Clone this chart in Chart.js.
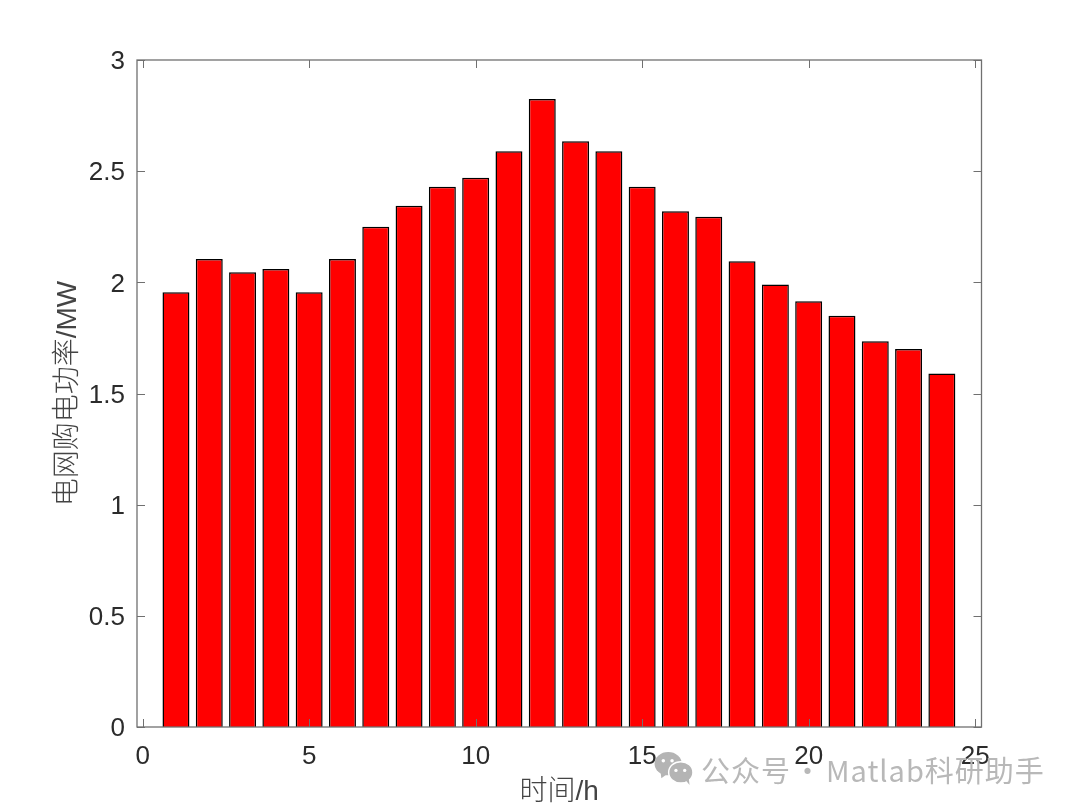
<!DOCTYPE html>
<html>
<head>
<meta charset="utf-8">
<script src="https://cdn.jsdelivr.net/npm/chart.js@4"></script>
<style>
  html, body { margin: 0; padding: 0; background: #fff; overflow: hidden; }
  #wrap { position: relative; width: 1080px; height: 812px; }
  .mark { position: absolute; top: 748px; font: 29px "Noto Sans CJK SC", "Noto Sans", sans-serif; color: #b8b8b8; letter-spacing: 1px; white-space: nowrap; }
  #icon { position: absolute; left: 653px; top: 751px; }
</style>
</head>
<body>
<div id="wrap">
  <canvas id="myChart" width="1080" height="812"></canvas>
  <svg id="icon" width="42" height="35" viewBox="0 0 40 36">
    <ellipse cx="14" cy="13" rx="14" ry="12" fill="#b4b4b4"/>
    <path d="M6 20 L7 28 L14 23 Z" fill="#b4b4b4"/>
    <ellipse cx="27" cy="22" rx="12.5" ry="11" fill="#b4b4b4" stroke="#fff" stroke-width="1.5"/>
    <path d="M32 30 L36 35 L35 27 Z" fill="#b4b4b4"/>
    <circle cx="9" cy="10" r="1.8" fill="#fff"/><circle cx="18" cy="10" r="1.8" fill="#fff"/>
    <circle cx="22" cy="20" r="1.7" fill="#fff"/><circle cx="31" cy="20" r="1.7" fill="#fff"/>
  </svg>
  <div class="mark" style="left:701px">公众号</div>
  <div class="mark" style="left:793px">·</div>
  <div class="mark" style="left:826px">Matlab科研助手</div>
</div>
<script>
const hours = [1,2,3,4,5,6,7,8,9,10,11,12,13,14,15,16,17,18,19,20,21,22,23,24]
const power = [1.955,2.105,2.045,2.06,1.955,2.105,2.25,2.345,2.43,2.47,2.59,2.825,2.635,2.59,2.43,2.32,2.295,2.095,1.99,1.915,1.85,1.735,1.7,1.59]
const xTicks = [0,5,10,15,20,25]
const yTicks = [0,0.5,1,1.5,2,2.5,3]

const axisColor = '#707070'
const textColor = '#2b2b2b'
const tickFont = { family: '"Liberation Sans", Arial, sans-serif', size: 26 }
const titleFont = { family: '"Liberation Sans", "Noto Sans CJK SC", sans-serif', size: 28, weight: '300' }

// matlab style box with inward ticks on all four sides
const boxTicks = {
  id: 'boxTicks',
  afterDatasetsDraw(chart) {
    const { ctx, chartArea: a, scales: { x, y } } = chart
    const len = 8
    ctx.save()
    ctx.strokeStyle = axisColor
    ctx.lineWidth = 1
    ctx.beginPath()
    xTicks.forEach((v) => {
      const px = Math.round(x.getPixelForValue(v)) + 0.5
      ctx.moveTo(px, a.bottom); ctx.lineTo(px, a.bottom - len)
      ctx.moveTo(px, a.top); ctx.lineTo(px, a.top + len)
    })
    yTicks.forEach((v) => {
      const py = Math.round(y.getPixelForValue(v)) + 0.5
      ctx.moveTo(a.left, py); ctx.lineTo(a.left + len, py)
      ctx.moveTo(a.right, py); ctx.lineTo(a.right - len, py)
    })
    ctx.stroke()
    ctx.lineWidth = 1.3
    ctx.strokeRect(a.left, a.top, a.right - a.left, a.bottom - a.top)
    ctx.restore()
  }
}

const ctx1 = document.getElementById('myChart')
new Chart(ctx1, {
  type: 'bar',
  data: {
    datasets: [{
      data: hours.map((h, i) => ({ x: h, y: power[i] })),
      backgroundColor: '#ff0000',
      borderColor: '#000000',
      borderWidth: 1.5,
      barPercentage: 0.81,
      categoryPercentage: 1
    }]
  },
  plugins: [boxTicks],
  options: {
    responsive: false,
    animation: false,
    layout: { padding: { top: 60, right: 98.5, left: 0, bottom: 0 } },
    plugins: { legend: { display: false }, tooltip: { enabled: false } },
    scales: {
      x: {
        type: 'linear',
        min: -0.17,
        max: 25.19,
        offset: false,
        grid: { display: false, drawTicks: false },
        border: { display: false },
        afterBuildTicks: (s) => { s.ticks = xTicks.map((v) => ({ value: v })) },
        afterFit: (s) => { s.height = 85 },
        ticks: { font: tickFont, color: textColor, padding: 14, maxRotation: 0, autoSkip: false, callback: (v) => String(v) },
        title: { display: true, text: '时间/h', font: titleFont, color: '#444444', padding: { top: 4, bottom: 3 } }
      },
      y: {
        min: 0,
        max: 3,
        grid: { display: false, drawTicks: false },
        border: { display: false },
        afterBuildTicks: (s) => { s.ticks = yTicks.map((v) => ({ value: v })) },
        afterFit: (s) => { s.width = 137 },
        ticks: { font: tickFont, color: textColor, padding: 12, labelOffset: 2, autoSkip: false, callback: (v) => String(v) },
        title: { display: true, text: '电网购电功率/MW', font: titleFont, color: '#444444', padding: { top: 51, bottom: 0 } }
      }
    }
  }
})
</script>
</body>
</html>
